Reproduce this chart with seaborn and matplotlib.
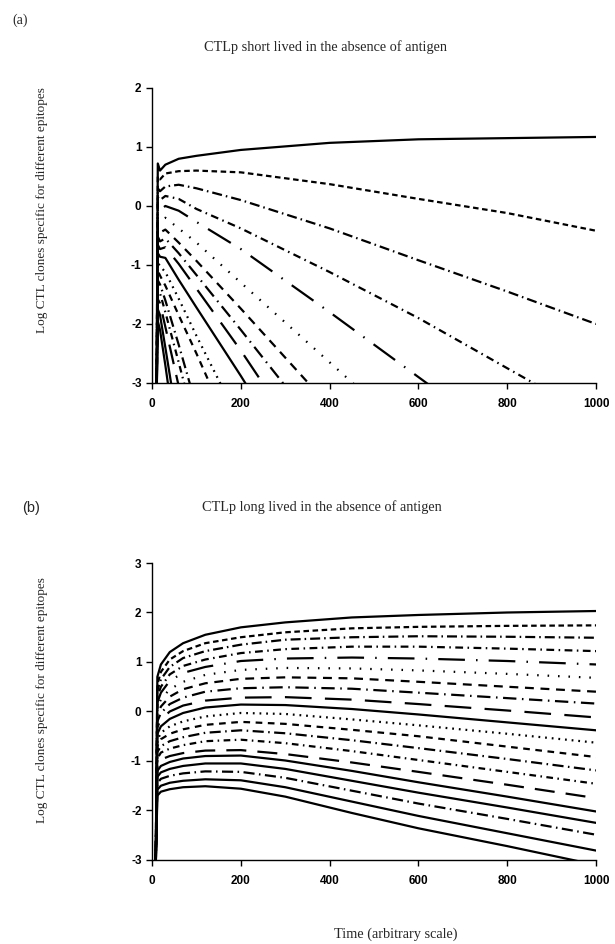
import pandas as pd
import matplotlib
matplotlib.use("Agg")
import matplotlib.pyplot as plt
import seaborn as sns

time_a = [0, 10, 13, 18, 30, 60, 100, 200, 400, 600, 800, 1000]
time_b = [0, 8, 12, 20, 40, 70, 120, 200, 300, 450, 600, 800, 1000]

# (a) CTLp short lived: log clone size per epitope
short_lived = [
    [-5, -3.5, 0.72, 0.60, 0.70, 0.80, 0.85, 0.95, 1.07, 1.13, 1.15, 1.17],
    [-5, -3.5, 0.50, 0.45, 0.55, 0.59, 0.60, 0.57, 0.37, 0.12, -0.12, -0.42],
    [-5, -3.5, 0.30, 0.25, 0.33, 0.36, 0.30, 0.10, -0.38, -0.92, -1.45, -2.0],
    [-5, -3.5, 0.15, 0.10, 0.17, 0.12, -0.05, -0.38, -1.12, -1.90, -2.75, -3.6],
    [-5, -3.5, -0.02, -0.07, 0.0, -0.08, -0.27, -0.73, -1.80, -2.90, -4.0, -5.0],
    [-5, -3.5, -0.20, -0.25, -0.20, -0.38, -0.62, -1.30, -2.65, -4.0, -5.3, -6.6],
    [-5, -3.5, -0.38, -0.45, -0.40, -0.62, -0.93, -1.74, -3.40, -5.0, -6.6, -8.2],
    [-5, -3.5, -0.52, -0.60, -0.55, -0.80, -1.17, -2.10, -4.0, -6.0, -8.0, -10],
    [-5, -3.5, -0.66, -0.73, -0.70, -0.98, -1.40, -2.45, -4.7, -7.0, -9.0, -11],
    [-5, -3.5, -0.80, -0.86, -0.88, -1.25, -1.72, -2.88, -5.3, -8.0, -10, -12],
    [-5, -3.5, -0.96, -1.02, -1.12, -1.57, -2.20, -3.70, -6.5, -9.0, -11, -13],
    [-5, -3.5, -1.10, -1.18, -1.35, -1.85, -2.50, -4.20, -7.5, -10, -12, -14],
    [-5, -3.5, -1.26, -1.33, -1.60, -2.35, -3.40, -5.50, -9.0, -12, -14, -16],
    [-5, -3.5, -1.42, -1.48, -1.80, -2.65, -3.80, -6.00, -10, -13, -15, -17],
    [-5, -3.5, -1.58, -1.65, -2.05, -3.05, -4.50, -7.00, -11, -14, -16, -18],
    [-5, -3.5, -1.75, -1.85, -2.40, -3.80, -5.50, -8.00, -12, -15, -17, -19],
    [-5, -3.5, -1.95, -2.10, -2.70, -4.30, -6.00, -9.00, -13, -16, -18, -20],
]

# (b) CTLp long lived
long_lived = [
    [-4, -3.3, 0.70, 0.95, 1.20, 1.38, 1.55, 1.70, 1.80, 1.90, 1.95, 2.00, 2.03],
    [-4, -3.3, 0.55, 0.80, 1.05, 1.22, 1.38, 1.50, 1.60, 1.68, 1.71, 1.73, 1.74],
    [-4, -3.3, 0.42, 0.65, 0.90, 1.08, 1.22, 1.35, 1.45, 1.50, 1.52, 1.51, 1.49],
    [-4, -3.3, 0.30, 0.50, 0.75, 0.92, 1.05, 1.18, 1.26, 1.31, 1.31, 1.27, 1.22],
    [-4, -3.3, 0.18, 0.38, 0.62, 0.78, 0.90, 1.02, 1.07, 1.09, 1.07, 1.02, 0.95],
    [-4, -3.3, 0.05, 0.25, 0.45, 0.60, 0.74, 0.84, 0.88, 0.87, 0.83, 0.76, 0.68],
    [-4, -3.3, -0.08, 0.10, 0.30, 0.45, 0.57, 0.66, 0.69, 0.67, 0.60, 0.50, 0.40],
    [-4, -3.3, -0.20, -0.03, 0.15, 0.28, 0.40, 0.47, 0.49, 0.46, 0.38, 0.27, 0.16],
    [-4, -3.3, -0.32, -0.16, 0.0, 0.12, 0.22, 0.28, 0.29, 0.24, 0.15, 0.02, -0.12],
    [-4, -3.3, -0.45, -0.30, -0.15, -0.03, 0.08, 0.14, 0.13, 0.05, -0.06, -0.22, -0.38],
    [-4, -3.3, -0.58, -0.43, -0.30, -0.20, -0.10, -0.03, -0.05, -0.16, -0.28, -0.45, -0.63],
    [-4, -3.3, -0.70, -0.56, -0.45, -0.36, -0.27, -0.21, -0.25, -0.37, -0.50, -0.71, -0.92],
    [-4, -3.3, -0.82, -0.70, -0.60, -0.52, -0.43, -0.38, -0.44, -0.58, -0.74, -0.96, -1.19],
    [-4, -3.3, -0.95, -0.83, -0.75, -0.68, -0.60, -0.57, -0.64, -0.80, -0.98, -1.22, -1.46],
    [-4, -3.3, -1.08, -0.97, -0.90, -0.84, -0.79, -0.78, -0.86, -1.03, -1.22, -1.48, -1.75],
    [-4, -3.3, -1.20, -1.10, -1.02, -0.95, -0.90, -0.89, -0.99, -1.20, -1.43, -1.72, -2.02],
    [-4, -3.3, -1.32, -1.23, -1.16, -1.10, -1.05, -1.05, -1.16, -1.40, -1.64, -1.94, -2.25],
    [-4, -3.3, -1.45, -1.36, -1.30, -1.25, -1.21, -1.22, -1.34, -1.60, -1.86, -2.17, -2.49],
    [-4, -3.3, -1.58, -1.50, -1.44, -1.40, -1.37, -1.39, -1.53, -1.82, -2.11, -2.46, -2.81],
    [-4, -3.3, -1.70, -1.62, -1.57, -1.53, -1.51, -1.56, -1.72, -2.05, -2.36, -2.72, -3.10],
]

x_ticks = [0, 200, 400, 600, 800, 1000]

# line patterns, one per curve (in units of line width)
patterns = [
    "", (2.5, 1.6), (4.5, 1.8, 0.7, 1.8), (3.5, 2.0, 0.7, 2.0), (12, 5, 0.7, 5),
    (0.7, 4.0), (4, 3), (6, 2.5, 0.7, 2.5), (12, 6), "",
    (0.8, 2.2), (3, 2.5), (5, 2, 0.7, 2), (3, 2, 0.7, 2), (9, 5),
    "", "", (5, 2, 0.7, 2), "", "",
]


def to_long(times, curves):
    rows = []
    for i, vals in enumerate(curves):
        for t, v in zip(times, vals):
            rows.append({"t": t, "logy": v, "curve": i})
    return pd.DataFrame(rows)


sns.set_style("ticks")
plt.rcParams["font.family"] = ["Liberation Sans", "DejaVu Sans"]
plt.rcParams["axes.unicode_minus"] = False

fig = plt.figure(figsize=(6.15, 9.44), dpi=100)
ax_a = fig.add_axes([0.2472, 0.5943, 0.722, 0.3125])
ax_b = fig.add_axes([0.2472, 0.0890, 0.722, 0.3146])

for ax, times, curves, ylim in [(ax_a, time_a, short_lived, (-3, 2)),
                                (ax_b, time_b, long_lived, (-3, 3))]:
    df = to_long(times, curves)
    dashes = {i: patterns[i] for i in range(len(curves))}
    sns.lineplot(data=df, x="t", y="logy", style="curve", dashes=dashes,
                 color="black", lw=1.6, legend=False, estimator=None, ax=ax)
    ax.set_xlim(0, 1000)
    ax.set_ylim(*ylim)
    ax.set_xticks(x_ticks)
    ax.set_yticks(range(ylim[0], ylim[1] + 1))
    ax.set_xlabel("")
    ax.set_ylabel("")
    sns.despine(ax=ax)
    for s in ["left", "bottom"]:
        ax.spines[s].set_linewidth(1.0)
        ax.spines[s].set_color("black")
    ax.tick_params(direction="out", length=4.5, width=1.0, labelsize=8.5,
                   colors="black")
    ax.tick_params(axis="x", pad=6)
    ax.tick_params(axis="y", pad=3)
    for lab in ax.get_xticklabels() + ax.get_yticklabels():
        lab.set_fontweight("bold")

serif = ["Liberation Serif", "DejaVu Serif"]
fig.text(0.020, 0.979, "(a)", family=serif, fontsize=10, va="center")
fig.text(0.530, 0.950, "CTLp short lived in the absence of antigen",
         family=serif, fontsize=10.3, ha="center", va="center")
fig.text(0.068, 0.777, "Log CTL clones specific for different epitopes",
         family=serif, fontsize=9.5, rotation=90, ha="center", va="center")

fig.text(0.036, 0.462, "(b)", fontsize=10.5, va="center")
fig.text(0.524, 0.463, "CTLp long lived in the absence of antigen",
         family=serif, fontsize=10.3, ha="center", va="center")
fig.text(0.068, 0.258, "Log CTL clones specific for different epitopes",
         family=serif, fontsize=9.5, rotation=90, ha="center", va="center")
fig.text(0.644, 0.010, "Time (arbitrary scale)", family=serif, fontsize=10.3,
         ha="center", va="center")

fig.savefig("out.png", dpi=100)
